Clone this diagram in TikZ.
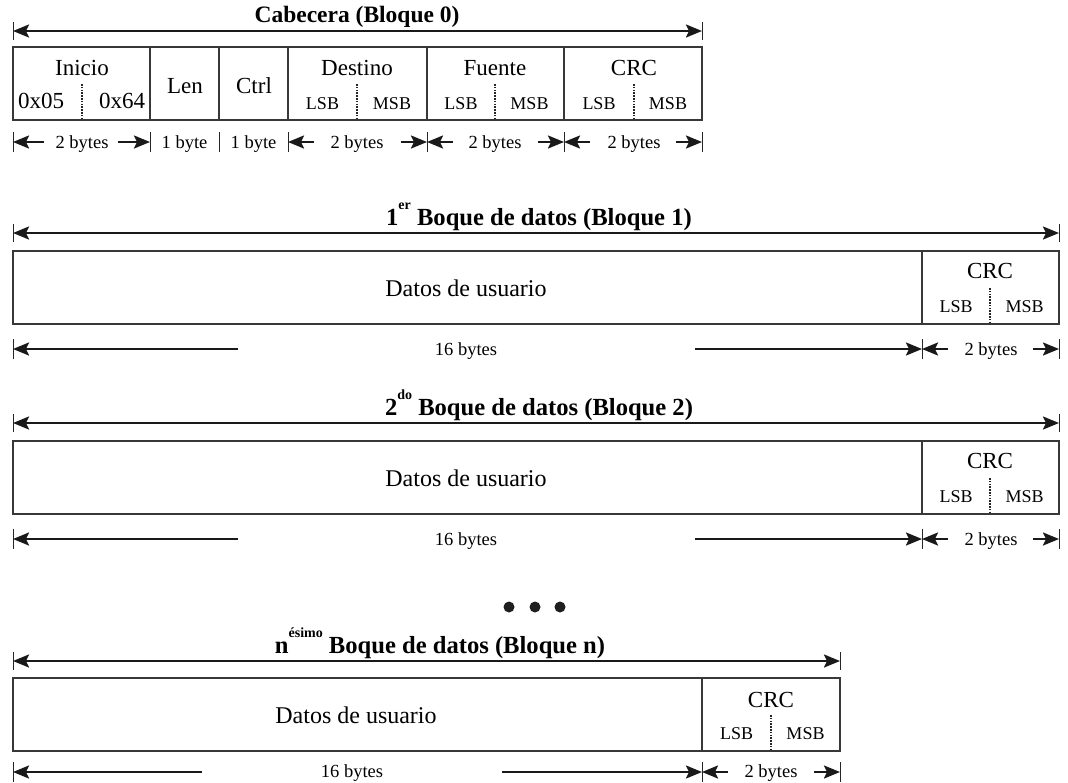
\documentclass[tikz,border=0pt]{standalone}
\usepackage{fontspec}
\setmainfont{Liberation Serif}
\usetikzlibrary{arrows.meta}
\newcommand\mysup[1]{\raisebox{0.62em}{\fontsize{14}{14}\selectfont\bfseries #1}}
\tikzset{
  boxline/.style={draw=black!78, line width=1.6pt},
  sepline/.style={draw=black!85, line width=1.4pt, dash pattern=on 1.5pt off 1.3pt},
  tipa/.tip={Stealth[length=16pt,width=13pt,inset=3pt]},
  dimarrow/.style={draw=black!90, line width=2.2pt, -tipa},
  dimboth/.style={draw=black!90, line width=2.2pt, tipa-tipa},
  endtick/.style={draw=black!85, line width=1pt},
  ttl/.style={font=\fontsize{24.6}{27}\selectfont\bfseries, inner sep=0pt, anchor=base},
  lbig/.style={font=\fontsize{23}{25}\selectfont, inner sep=0pt, anchor=base},
  ldata/.style={font=\fontsize{24}{26}\selectfont, inner sep=0pt, anchor=base},
  lsmall/.style={font=\fontsize{18}{20}\selectfont, inner sep=0pt, anchor=base},
  lrow/.style={font=\fontsize{18.5}{20}\selectfont, inner sep=0pt, anchor=base},
}
\begin{document}
\begin{tikzpicture}[x=1pt,y=-1pt]
\useasboundingbox (0,0) rectangle (1068,782);

% ---------------- Header (Bloque 0) ----------------
\node[ttl, font=\fontsize{23.5}{26}\selectfont\bfseries] (t0) at (357,22) {Cabecera (Bloque 0)};
\coordinate (h0L) at (13,31); \coordinate (h0R) at (702,31);
\draw[dimboth] (h0L) -- (h0R);
\draw[endtick] (13,22) -- (13,40);
\draw[endtick] (702,22) -- (702,40);

\draw[boxline] (13,47) rectangle (702,120);
\foreach \x in {150,219,288,427,564} \draw[boxline] (\x,47) -- (\x,120);
\foreach \x in {82,357,495,634} \draw[sepline] (\x,84) -- (\x,120);

\node[lbig] (inicio) at (82,75) {Inicio};
\node[lbig] (b05) at (41,108) {0x05};
\node[lbig] (b64) at (122,108) {0x64};
\node[lbig] (len) at (185,93) {Len};
\node[lbig] (ctrl) at (254,93) {Ctrl};
\node[lbig] (dest) at (357,75) {Destino};
\node[lsmall] (destl) at (322.5,109) {LSB};
\node[lsmall] (destm) at (392,109) {MSB};
\node[lbig] (fuen) at (495,75) {Fuente};
\node[lsmall] (fuenl) at (461,109) {LSB};
\node[lsmall] (fuenm) at (529.5,109) {MSB};
\node[lbig] (crc0) at (634,75) {CRC};
\node[lsmall] (crc0l) at (599,109) {LSB};
\node[lsmall] (crc0m) at (668,109) {MSB};

% header size row
\foreach \x in {13,150,219,288,427,564,702} \draw[endtick] (\x,132) -- (\x,152);
\coordinate (ia) at (13,142);  \coordinate (ib) at (44,142);
\coordinate (ic) at (118,142); \coordinate (id) at (150,142);
\draw[dimarrow] (ib) -- (ia); \draw[dimarrow] (ic) -- (id);
\node[lrow] (sz1) at (82,148) {2 bytes};
\node[lrow] (sz2) at (184.5,148) {1 byte};
\node[lrow] (sz3) at (253.5,148) {1 byte};
\coordinate (da) at (288,142); \coordinate (db) at (314,142);
\coordinate (dc) at (401,142); \coordinate (dd) at (427,142);
\draw[dimarrow] (db) -- (da); \draw[dimarrow] (dc) -- (dd);
\node[lrow] (sz4) at (357,148) {2 bytes};
\coordinate (fa) at (427,142); \coordinate (fb) at (453,142);
\coordinate (fc) at (538,142); \coordinate (fd) at (564,142);
\draw[dimarrow] (fb) -- (fa); \draw[dimarrow] (fc) -- (fd);
\node[lrow] (sz5) at (495,148) {2 bytes};
\coordinate (ca) at (564,142); \coordinate (cb) at (590,142);
\coordinate (cc) at (676,142); \coordinate (cd) at (702,142);
\draw[dimarrow] (cb) -- (ca); \draw[dimarrow] (cc) -- (cd);
\node[lrow] (sz6) at (634,148) {2 bytes};

% ---------------- Data blocks 1 and 2 ----------------
\foreach \b/\sh/\sx in {1/0/er,2/190/do}{
\begin{scope}[yshift=-\sh pt]
  \node[ttl] (bt\b) at (539,225) {\b\mysup{\sx}\ Boque de datos (Bloque \b)};
  \coordinate (bL\b) at (13,233); \coordinate (bR\b) at (1059,233);
  \draw[dimboth] (bL\b) -- (bR\b);
  \draw[endtick] (13,224) -- (13,242);
  \draw[endtick] (1059,224) -- (1059,242);
  \draw[boxline] (13,251) rectangle (1059,324);
  \draw[boxline] (922,251) -- (922,324);
  \draw[sepline] (990,288) -- (990,324);
  \node[ldata] (du\b) at (466,296) {Datos de usuario};
  \node[lbig] (crc\b) at (990,278) {CRC};
  \node[lsmall] (lsb\b) at (956,312) {LSB};
  \node[lsmall] (msb\b) at (1024.5,312) {MSB};
  \foreach \x in {13,922,1059} \draw[endtick] (\x,339) -- (\x,359);
  \coordinate (rA\b) at (13,349);  \coordinate (rB\b) at (238,349);
  \coordinate (rC\b) at (695,349); \coordinate (rD\b) at (922,349);
  \coordinate (rE\b) at (948,349); \coordinate (rF\b) at (1033,349);
  \coordinate (rG\b) at (1059,349);
  \draw[dimarrow] (rB\b) -- (rA\b);
  \draw[dimarrow] (rC\b) -- (rD\b);
  \draw[dimarrow] (rE\b) -- (rD\b);
  \draw[dimarrow] (rF\b) -- (rG\b);
  \node[lrow] (sixt\b) at (466,355) {16 bytes};
  \node[lrow] (two\b) at (991,355) {2 bytes};
\end{scope}
}

% ---------------- dots ----------------
\fill[black!88] (509,607) circle (5.5pt);
\fill[black!88] (535,607) circle (5.5pt);
\fill[black!88] (560,607) circle (5.5pt);

% ---------------- Block n ----------------
\node[ttl] (btn) at (440,653) {n\mysup{ésimo}\ Boque de datos (Bloque n)};
\coordinate (bLn) at (13,661); \coordinate (bRn) at (840,661);
\draw[dimboth] (bLn) -- (bRn);
\draw[endtick] (13,652) -- (13,670);
\draw[endtick] (840,652) -- (840,670);
\draw[boxline] (13,678) rectangle (840,751);
\draw[boxline] (702,678) -- (702,751);
\draw[sepline] (771,715) -- (771,751);
\node[ldata] (dun) at (356,723) {Datos de usuario};
\node[lbig] (crcn) at (771,707) {CRC};
\node[lsmall] (lsbn) at (736.5,739) {LSB};
\node[lsmall] (msbn) at (805.5,739) {MSB};
\foreach \x in {13,702,840} \draw[endtick] (\x,762) -- (\x,782);
\coordinate (nA) at (13,772);  \coordinate (nB) at (202,772);
\coordinate (nC) at (502,772); \coordinate (nD) at (702,772);
\coordinate (nE) at (728,772); \coordinate (nF) at (814,772);
\coordinate (nG) at (840,772);
\draw[dimarrow] (nB) -- (nA);
\draw[dimarrow] (nC) -- (nD);
\draw[dimarrow] (nE) -- (nD);
\draw[dimarrow] (nF) -- (nG);
\node[lrow] (sixtn) at (352,777) {16 bytes};
\node[lrow] (twon) at (771,777) {2 bytes};
\end{tikzpicture}
\end{document}
